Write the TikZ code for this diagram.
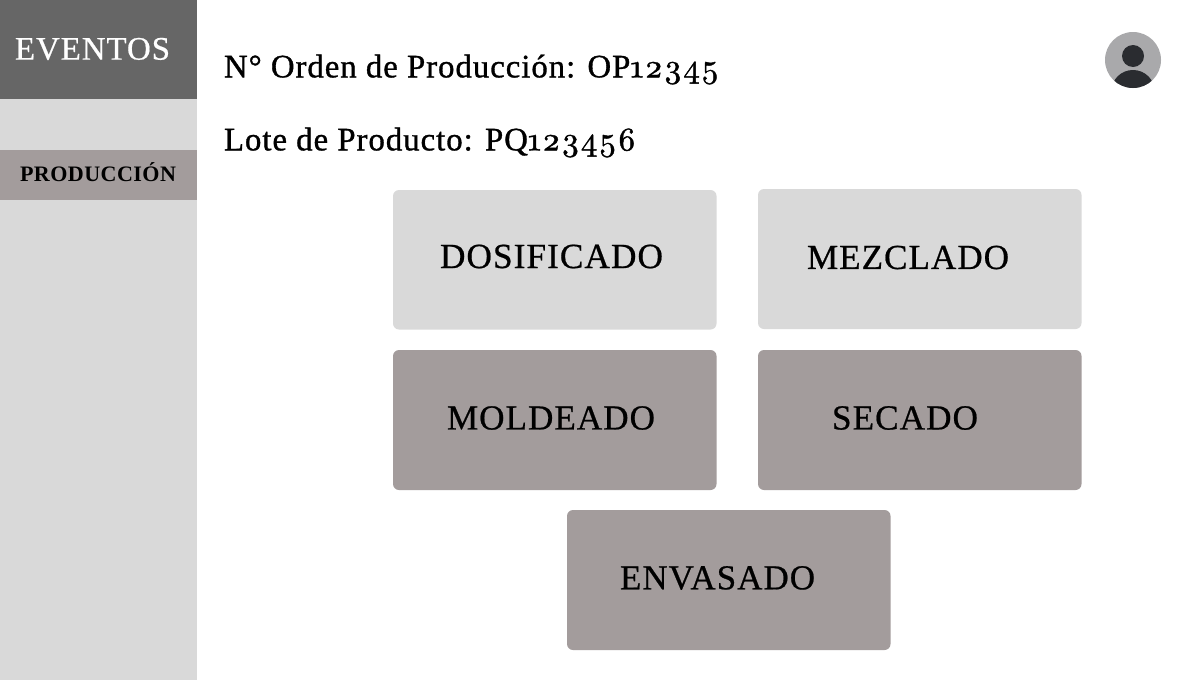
\documentclass[tikz,border=0pt]{standalone}
\usepackage{fontspec}
\setmainfont{Liberation Serif}
\newfontfamily\oldnum[Numbers=OldStyle,FakeBold=1.2,LetterSpace=3]{Latin Modern Roman}
\newfontfamily\txtf[LetterSpace=3,FakeBold=1]{Liberation Serif}
\newfontfamily\capf[LetterSpace=3,FakeBold=0.6]{Liberation Serif}
\definecolor{dark}{HTML}{666666}
\definecolor{light}{HTML}{D9D9D9}
\definecolor{mid}{HTML}{A39C9C}
\definecolor{avbg}{HTML}{A9A9AB}
\definecolor{avfg}{HTML}{2A2C30}
\newcommand{\fit}[2]{\resizebox{#1pt}{!}{#2}}
\tikzset{
 x=1pt,y=-1pt,
 card/.style={fill=#1,rounded corners=6pt,draw=none},
 lbl/.style={inner sep=0,outer sep=0,anchor=west,text=black},
}
\begin{document}
\begin{tikzpicture}
\useasboundingbox (0,0) rectangle (1198,680);
\fill[white] (0,0) rectangle (1198,680);
\fill[light] (0,0) rectangle (196.5,680);
\fill[dark] (0,0) rectangle (196.5,98.5);
\fill[mid] (0,149.5) rectangle (196.5,200);
\path[card=light] (393,190) rectangle (716.5,329.5);
\path[card=light] (758,189) rectangle (1081.5,329);
\path[card=mid] (393,350) rectangle (716.5,490);
\path[card=mid] (758,350) rectangle (1081.5,490);
\path[card=mid] (567,510) rectangle (890.5,650);
\node[lbl,text=white] (ev) at (15,49) {\fit{155}{\capf EVENTOS}};
\node[lbl] (pr) at (20,172.5) {\fit{156}{\bfseries\addfontfeatures{LetterSpace=2} PRODUCCIÓN}};
\node[lbl] (op) at (224,69.5) {\fit{495}{\txtf N° Orden de Producción: OP{\oldnum 12345}}};
\node[lbl] (lo) at (224,142.5) {\fit{412}{\txtf Lote de Producto: PQ{\oldnum 123456}}};
\node[lbl] (d) at (440,256.5) {\fit{223}{\capf DOSIFICADO}};
\node[lbl] (m) at (807,257.5) {\fit{202}{\capf MEZCLADO}};
\node[lbl] (mo) at (447,418) {\fit{208}{\capf MOLDEADO}};
\node[lbl] (s) at (832,418) {\fit{146}{\capf SECADO}};
\node[lbl] (e) at (620,578) {\fit{195}{\capf ENVASADO}};
\fill[avbg] (1133,60) circle (28);
\fill[avfg] (1133,56) circle (11);
\begin{scope}
\clip (1133,60) circle (28);
\fill[avfg] (1133,91) ellipse (21.5 and 21);
\end{scope}
\end{tikzpicture}
\end{document}
